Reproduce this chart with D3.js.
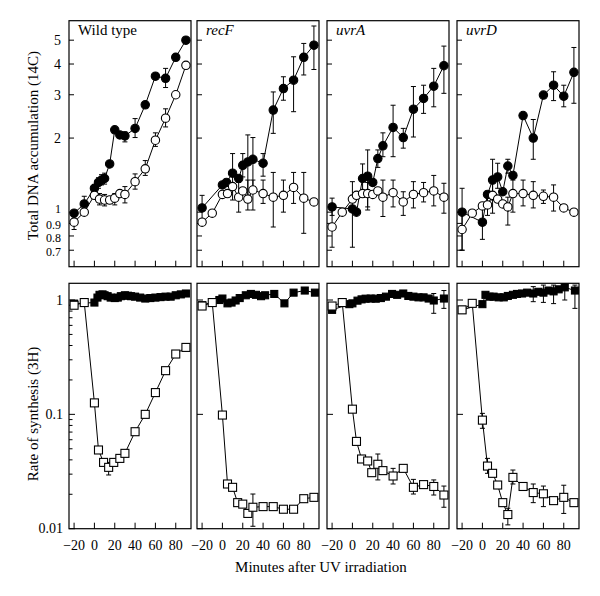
<!DOCTYPE html>
<html><head><meta charset="utf-8">
<script src="https://cdn.jsdelivr.net/npm/d3@7"></script>
<style>body{margin:0;background:#fff}text{font-family:"Liberation Serif","Times New Roman",serif;fill:#000}</style>
</head><body><svg id="c" width="600" height="596"></svg>
<script>
// ---------- data ----------
const strains = ["Wild type", "recF", "uvrA", "uvrD"];
const xTicks = [-20, 0, 20, 40, 60, 80];
const xTickLabels = ["\u221220", "0", "20", "40", "60", "80"];
const topTicks = [5, 4, 3, 2, 1, 0.9, 0.8, 0.7];
const topTickLabels = ["5", "4", "3", "2", "1", "0.9", "0.8", "0.7"];
const botTicks = [1, 0.1, 0.01];
const botTickLabels = ["1", "0.1", "0.01"];
const yTitleTop = "Total DNA accumulation (14C)";
const yTitleBot = "Rate of synthesis (3H)";
const xTitle = "Minutes after UV irradiation";

// [minutes, value, errLow, errHigh]
const wtAccFilled = [[-20,0.99],[-10,1.08,1.03,1.16],[0,1.25],[4,1.32,1.25,1.38],[7,1.35,1.29,1.42],[10,1.37,1.30,1.44],[15,1.57],[20,2.16],[25,2.06],[30,2.04,1.93,2.12],[40,2.19,2.01,2.40],[50,2.73],[60,3.57],[70,3.50,3.21,3.84],[80,4.26],[90,5.0]];
const wtAccOpen = [[-20,0.91,0.85,0.945],[-10,1.0],[0,1.17],[5,1.13,1.07,1.19],[10,1.12,1.06,1.18],[15,1.12],[20,1.14,1.07,1.19],[25,1.19],[30,1.18,1.09,1.27],[40,1.33,1.24,1.43],[50,1.50,1.41,1.62],[60,1.96,1.85,2.10],[70,2.41,2.22,2.63],[80,3.0],[90,3.95]];
const recFAccFilled = [[-20,1.04,0.91,1.17],[0,1.29],[4,1.32],[10,1.44,1.12,1.73],[16,1.37],[20,1.55,1.39,1.73],[25,1.60,1.12,2.06],[30,1.64,1.27,2.01],[40,1.58,1.40,1.73],[50,2.60,2.09,3.08],[60,3.18,2.85,3.55],[70,3.44,2.56,4.28],[80,4.26,3.61,4.85],[90,4.77,3.80,5.71]];
const recFAccOpen = [[-20,0.91],[-10,0.99],[0,1.18],[5,1.19],[10,1.27],[16,1.15,1.00,1.32],[20,1.22],[25,1.13,1.02,1.35],[30,1.23,1.02,1.35],[40,1.19,1.085,1.35],[50,1.15,0.87,1.45],[60,1.17,1.00,1.35],[70,1.26,1.085,1.45],[80,1.14,0.82,1.45],[90,1.10]];
const uvrAAccFilled = [[-20,1.05,0.97,1.14],[0,1.03,0.72,1.33],[4,1.00],[10,1.37,1.15,1.57],[15,1.40,1.05,1.79],[20,1.32],[25,1.65,1.52,1.79],[30,1.86,1.68,2.10],[40,2.21,1.68,2.72],[50,2.01,1.82,2.19],[60,2.62,2.02,3.24],[70,2.90,2.52,3.28],[80,3.25,2.68,3.84],[90,3.94,3.04,4.73]];
const uvrAAccOpen = [[-20,0.87,0.72,1.02],[-10,1.0],[0,1.13],[4,1.17],[10,1.19],[15,1.19,1.02,1.32],[20,1.18],[25,1.22],[30,1.15,0.96,1.35],[40,1.20,1.05,1.35],[50,1.10,0.97,1.21],[60,1.18,1.04,1.33],[70,1.20,1.10,1.32],[80,1.22,1.06,1.41],[90,1.15,0.99,1.31]];
const uvrDAccFilled = [[-20,1.0,0.70,1.25],[0,0.91,0.775,1.06],[5,1.18],[10,1.35,1.12,1.64],[15,1.39,1.25,1.58],[20,1.21],[25,1.54,1.44,1.64],[30,1.41],[40,2.47],[50,2.0,1.64,2.38],[60,2.99],[70,3.28,2.84,3.72],[80,2.96,2.68,3.28],[90,3.70,2.77,4.67]];
const uvrDAccOpen = [[-20,0.85,0.70,0.99],[-10,0.99],[0,1.06],[5,1.07,0.97,1.15],[10,1.17,0.99,1.33],[15,1.13],[20,1.08],[25,1.05,0.886,1.15],[30,1.19,1.0,1.35],[40,1.19,1.06,1.35],[50,1.17,1.04,1.33],[60,1.16,1.085,1.23],[70,1.15,1.01,1.29],[80,1.04],[90,1.00]];

const wtRateFilled = [[-20,0.93],[0,0.95],[3,1.05],[5,1.11],[8,1.12],[10,1.10],[13,1.08],[16,1.05],[20,1.04],[23,1.05],[26,1.08],[30,1.10],[33,1.09],[36,1.08],[40,1.07],[45,1.05],[50,1.03],[55,1.04],[60,1.05],[65,1.06],[70,1.07],[75,1.07],[80,1.10],[85,1.12],[90,1.14]];
const wtRateOpen = [[-20,0.90],[-10,0.95],[0,0.126],[4,0.0488],[9,0.038],[14,0.0344,0.0295,0.038],[19,0.038],[25,0.0412],[30,0.0456],[40,0.0705],[50,0.100],[60,0.155,0.145,0.165],[70,0.241],[80,0.337],[90,0.385]];
const recFRateFilled = [[-20,0.90],[-3,1.0],[0,1.03],[5,0.935],[9,0.95],[13,0.99],[17,1.04],[23,1.10],[28,1.13],[33,1.11],[38,1.08],[42,1.10],[51,1.13],[61,0.935],[70,1.16],[81,1.21],[91,1.16]];
const recFRateOpen = [[-20,0.886],[-10,0.95],[0,0.0986],[5,0.0246],[10,0.0230],[15,0.0169],[20,0.0164],[25,0.0136],[30,0.0154,0.0105,0.0201],[40,0.0156],[50,0.0156],[60,0.0148],[70,0.0148],[80,0.0183],[90,0.0188]];
const uvrARateFilled = [[-20,0.82],[-3,0.92],[0,0.935],[5,0.987],[9,1.013],[13,1.027],[18,1.03],[23,1.027],[28,1.04],[33,1.07],[39,1.13],[44,1.11],[50,1.14],[55,1.085],[60,1.07],[65,1.055],[70,1.055],[75,1.03],[80,0.99,0.765,1.14],[90,1.03,0.845,1.21]];
const uvrARateOpen = [[-20,0.886],[-10,0.95],[0,0.111],[4,0.058],[9,0.0407],[15,0.0391],[19,0.0309],[25,0.0366,0.0267,0.045],[30,0.0322],[40,0.0289,0.0246,0.0337],[50,0.0337],[60,0.0230,0.0201,0.0270],[70,0.0243],[80,0.0234,0.0197,0.0267],[90,0.0197,0.0154,0.0236]];
const uvrDRateFilled = [[-20,0.82],[0,0.92],[3,1.11],[7,1.07],[11,1.07],[16,1.055],[21,1.055],[25,1.085],[30,1.11],[34,1.13],[39,1.14],[44,1.16],[50,1.14,0.967,1.31],[55,1.18],[60,1.16,0.953,1.35],[65,1.21],[70,1.19,0.93,1.35],[75,1.24],[81,1.29,1.0,1.38],[91,1.21,0.845,1.35]];
const uvrDRateOpen = [[-20,0.82],[-10,0.935],[0,0.089,0.0755,0.102],[5,0.0353,0.0305,0.0412],[10,0.0305],[15,0.0241],[20,0.0169],[25,0.0133,0.0108,0.0151],[30,0.0281,0.0246,0.0326],[40,0.0234],[50,0.0207,0.0169,0.0246],[60,0.0202,0.0156,0.0236],[70,0.0176],[80,0.0188,0.0136,0.024],[90,0.0169]];

const accFilled = [wtAccFilled, recFAccFilled, uvrAAccFilled, uvrDAccFilled];
const accOpen = [wtAccOpen, recFAccOpen, uvrAAccOpen, uvrDAccOpen];
const rateFilled = [wtRateFilled, recFRateFilled, uvrARateFilled, uvrDRateFilled];
const rateOpen = [wtRateOpen, recFRateOpen, uvrARateOpen, uvrDRateOpen];

// ---------- layout ----------
const svg = d3.select("#c");
const panelLefts = [69, 197, 327, 457];
const panelW = 122;
const topBox = [20.7, 266.7];
const botBox = [283.3, 528.7];
const yTop = d3.scaleLog().domain([0.6, 6]).range([topBox[1], topBox[0]]);
const yBot = d3.scaleLog().domain([0.01, 1.4]).range([botBox[1], botBox[0]]);
// label nudges so the crowded 1/0.9/0.8/0.7 labels do not collide
const topLabelNudge = [0, 0, 0, 0, -3, 2, 2, 2];

function errBars(g, data, x, y) {
  data.filter(d => d[2] != null).forEach(d => {
    const cx = x(d[0]), y1 = y(d[2]), y2 = y(d[3]);
    g.append("line").attr("x1", cx).attr("x2", cx).attr("y1", y1).attr("y2", y2).attr("stroke", "#000").attr("stroke-width", 1);
    [y1, y2].forEach(yy => g.append("line").attr("x1", cx - 2.5).attr("x2", cx + 2.5).attr("y1", yy).attr("y2", yy).attr("stroke", "#000").attr("stroke-width", 1));
  });
}
function series(g, data, x, y, shape, filled) {
  const line = d3.line().x(d => x(d[0])).y(d => y(d[1]));
  g.append("path").datum(data).attr("d", line).attr("fill", "none").attr("stroke", "#000").attr("stroke-width", 1);
  errBars(g, data, x, y);
  if (shape === "circle") {
    g.selectAll(null).data(data).enter().append("circle")
      .attr("cx", d => x(d[0])).attr("cy", d => y(d[1])).attr("r", 4.2)
      .attr("fill", filled ? "#000" : "#fff").attr("stroke", "#000").attr("stroke-width", 1.1);
  } else {
    const s = filled ? 7 : 8;
    g.selectAll(null).data(data).enter().append("rect")
      .attr("x", d => x(d[0]) - s / 2).attr("y", d => y(d[1]) - s / 2).attr("width", s).attr("height", s)
      .attr("fill", filled ? "#000" : "#fff").attr("stroke", "#000").attr("stroke-width", 1.1);
  }
}

strains.forEach((name, i) => {
  const L = panelLefts[i];
  const x = d3.scaleLinear().domain([-25, 95]).range([L, L + panelW]);
  // ----- top panel -----
  const gt = svg.append("g");
  gt.append("rect").attr("x", L).attr("y", topBox[0]).attr("width", panelW).attr("height", topBox[1] - topBox[0])
    .attr("fill", "none").attr("stroke", "#000").attr("stroke-width", 1.2);
  xTicks.forEach(t => gt.append("line").attr("x1", x(t)).attr("x2", x(t)).attr("y1", topBox[1]).attr("y2", topBox[1] - 6).attr("stroke", "#000"));
  topTicks.forEach((t, k) => {
    gt.append("line").attr("x1", L).attr("x2", L + 5).attr("y1", yTop(t)).attr("y2", yTop(t)).attr("stroke", "#000");
    if (i === 0) gt.append("text").attr("x", L - 8).attr("y", yTop(t) + topLabelNudge[k]).attr("dy", "0.34em")
      .attr("text-anchor", "end").attr("font-size", t < 2 ? 12 : 14).text(topTickLabels[k]);
  });
  gt.append("text").attr("x", L + 9).attr("y", topBox[0] + 14.5).attr("font-size", 15)
    .attr("font-style", i === 0 ? "normal" : "italic").text(name);
  series(gt, accFilled[i], x, yTop, "circle", true);
  series(gt, accOpen[i], x, yTop, "circle", false);

  // ----- bottom panel -----
  const gb = svg.append("g");
  gb.append("rect").attr("x", L).attr("y", botBox[0]).attr("width", panelW).attr("height", botBox[1] - botBox[0])
    .attr("fill", "none").attr("stroke", "#000").attr("stroke-width", 1.2);
  xTicks.forEach((t, k) => {
    gb.append("line").attr("x1", x(t)).attr("x2", x(t)).attr("y1", botBox[1]).attr("y2", botBox[1] - 6).attr("stroke", "#000");
    gb.append("text").attr("x", x(t)).attr("y", botBox[1] + 21).attr("text-anchor", "middle").attr("font-size", 14).text(xTickLabels[k]);
  });
  botTicks.forEach((t, k) => {
    gb.append("line").attr("x1", L).attr("x2", L + 6).attr("y1", yBot(t)).attr("y2", yBot(t)).attr("stroke", "#000");
    if (i === 0) gb.append("text").attr("x", L - 6).attr("y", yBot(t)).attr("dy", "0.34em").attr("text-anchor", "end").attr("font-size", 14).text(botTickLabels[k]);
  });
  if (i === 0) {
    [0.01, 0.1].forEach(dec => {
      for (let m = 2; m <= 9; m++) {
        const v = dec * m;
        gb.append("line").attr("x1", L).attr("x2", L + 3.5).attr("y1", yBot(v)).attr("y2", yBot(v)).attr("stroke", "#000");
      }
    });
  }
  series(gb, rateFilled[i], x, yBot, "square", true);
  series(gb, rateOpen[i], x, yBot, "square", false);
});

svg.append("text").attr("transform", `translate(38,${(topBox[0] + topBox[1]) / 2 + 2}) rotate(-90)`)
  .attr("text-anchor", "middle").attr("font-size", 15).text(yTitleTop);
svg.append("text").attr("transform", `translate(38,${(botBox[0] + botBox[1]) / 2 + 8}) rotate(-90)`)
  .attr("text-anchor", "middle").attr("font-size", 15).text(yTitleBot);
svg.append("text").attr("x", 321).attr("y", 572).attr("text-anchor", "middle").attr("font-size", 15).text(xTitle);
</script></body></html>
